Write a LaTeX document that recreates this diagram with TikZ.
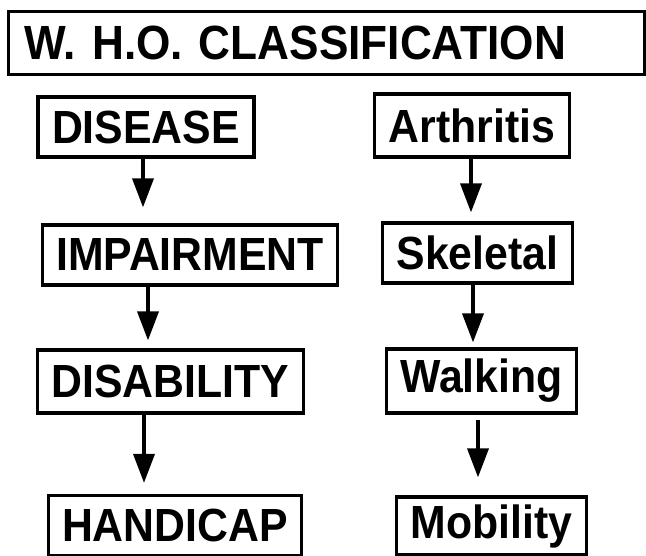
\documentclass[tikz,border=0pt]{standalone}
\usepackage{fontspec}
\setmainfont{Liberation Sans}
\newfontfamily\boxfont[FakeStretch=0.92]{Liberation Sans}
\usepackage{tikz}
\usetikzlibrary{arrows.meta,positioning}

\begin{document}
\begin{tikzpicture}[
    x=1pt, y=-1pt,
    box/.style={rectangle, draw, line width=3.2pt, minimum height=60pt, inner xsep=14pt, font=\boxfont\bfseries\fontsize{46.5}{48}\selectfont},
    arrow/.style={-{Triangle[length=29pt, width=21pt]}, line width=3.6pt}
]
\useasboundingbox (0,0) rectangle (646,556);

% Title
\node[box, anchor=west, minimum height=63pt, inner xsep=16pt, text width=604pt, align=left, font=\boxfont\bfseries\fontsize{48}{50}\selectfont] (title) at (7,43) {W. H.O. CLASSIFICATION};

% Left column
\node[box] (disease) at (146,127) {DISEASE};
\node[box] (impair) at (190,255) {IMPAIRMENT};
\node[box, minimum height=63pt] (disab) at (170.5,381.5) {DISABILITY};
\node[box] (handicap) at (175,525.5) {HANDICAP};

% Right column
\node[box, minimum height=63pt] (arthritis) at (472,125.5) {Arthritis};
\node[box] (skeletal) at (477.5,253) {Skeletal};
\node[box, minimum height=64pt] (walking) at (481.5,381) {Walking};
\node[box, minimum height=58pt] (mobility) at (491.5,526) {Mobility};

% Arrow columns
\coordinate (l1) at (143,0);
\coordinate (l2) at (148,0);
\coordinate (l3) at (144,0);
\coordinate (r1) at (471,0);
\coordinate (r2) at (473,0);
\coordinate (r3) at (478,0);

% Arrows
\draw[arrow, shorten >=16pt] (disease.south -| l1) -- (impair.north -| l1);
\draw[arrow, shorten >=8pt] (impair.south -| l2) -- (disab.north -| l2);
\draw[arrow, shorten >=11pt] (disab.south -| l3) -- (handicap.north -| l3);
\draw[arrow, shorten >=9pt] (arthritis.south -| r1) -- (skeletal.north -| r1);
\draw[arrow, shorten >=5pt] (skeletal.south -| r2) -- (walking.north -| r2);
\draw[arrow, shorten <=5pt, shorten >=18pt] (walking.south -| r3) -- (mobility.north -| r3);

\end{tikzpicture}
\end{document}
